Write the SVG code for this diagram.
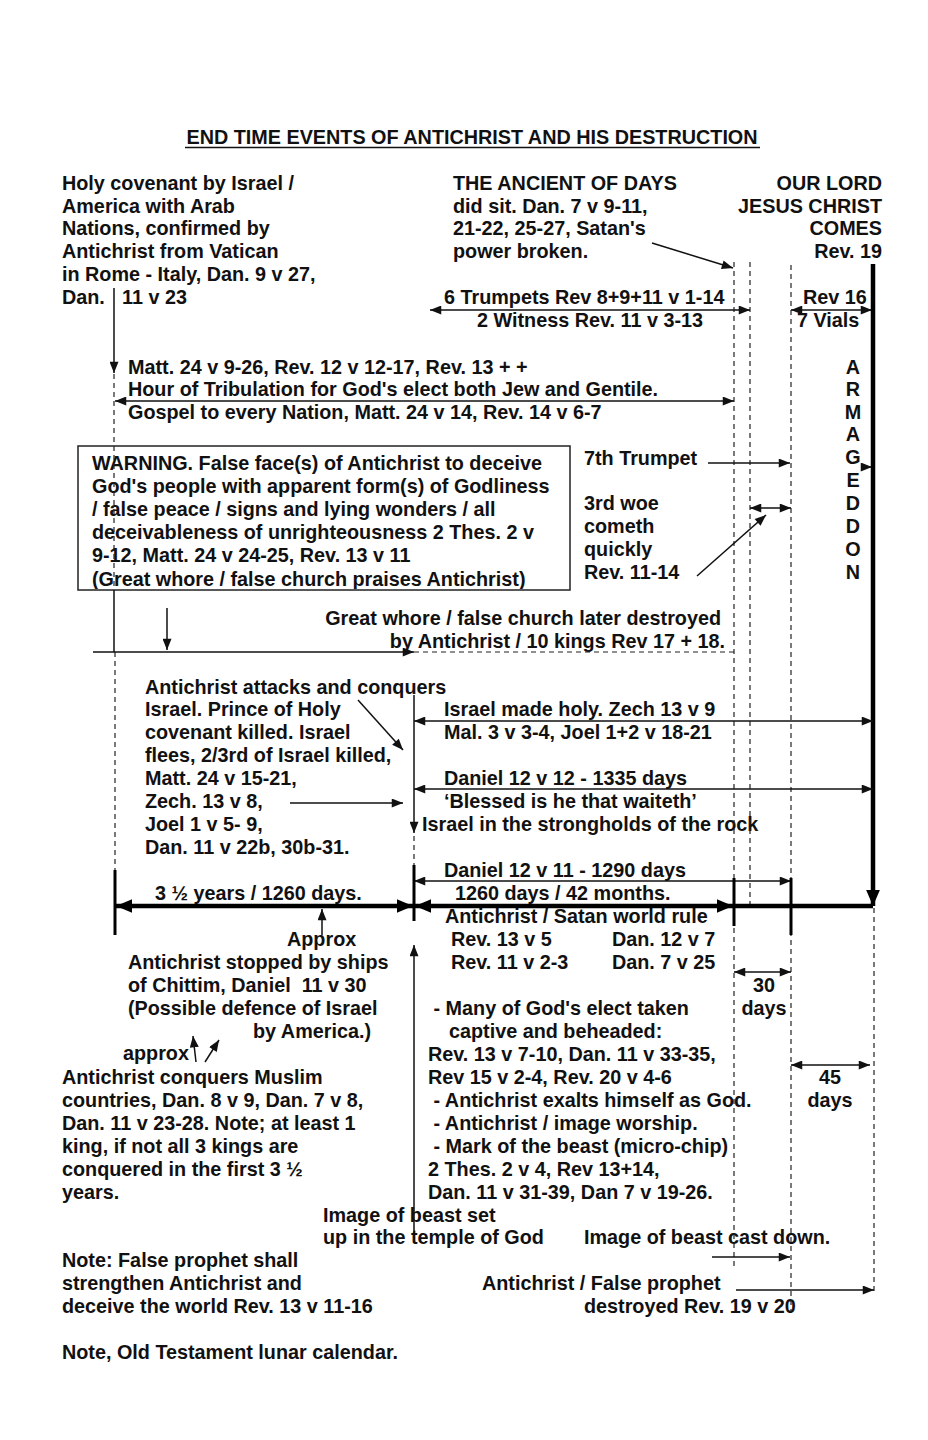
<svg xmlns="http://www.w3.org/2000/svg" width="928" height="1440" viewBox="0 0 928 1440">
<style>
.t{font-family:"Liberation Sans",Arial,sans-serif;font-weight:bold;font-size:19.8px;fill:#111;white-space:pre}
.e{text-anchor:end}
.m{text-anchor:middle}
.ln{stroke:#111;stroke-width:1.5;fill:none}
.dl{stroke:#222;stroke-width:1.2;stroke-dasharray:5 4;fill:none}
.th{stroke:#000;stroke-width:4.5;fill:none}
.tk{stroke:#000;stroke-width:3;fill:none}
</style>
<defs>
<marker id="a" viewBox="0 0 10 8" refX="10" refY="4" markerWidth="12" markerHeight="9" markerUnits="userSpaceOnUse" orient="auto-start-reverse"><path d="M0,0L10,4L0,8z" fill="#111"/></marker>
<marker id="b" viewBox="0 0 14 12" refX="14" refY="6" markerWidth="16" markerHeight="14" markerUnits="userSpaceOnUse" orient="auto-start-reverse"><path d="M0,0L14,6L0,12z" fill="#000"/></marker>
<clipPath id="boxclip"><rect x="78" y="446" width="492" height="143"/></clipPath>
</defs>
<rect width="928" height="1440" fill="#fff"/>

<g id="title">
<text class="t m" x="472" y="144">END TIME EVENTS OF ANTICHRIST AND HIS DESTRUCTION</text>
<line x1="185" y1="147.5" x2="760" y2="147.5" stroke="#111" stroke-width="1.5"/>
</g>

<g id="holy-covenant">
<text class="t" x="62" y="190">Holy covenant by Israel /</text>
<text class="t" x="62" y="213">America with Arab</text>
<text class="t" x="62" y="235">Nations, confirmed by</text>
<text class="t" x="62" y="258">Antichrist from Vatican</text>
<text class="t" x="62" y="281">in Rome - Italy, Dan. 9 v 27,</text>
<text class="t" x="62" y="304">Dan.</text>
<text class="t" x="122" y="304">11 v 23</text>
</g>

<g id="ancient-of-days">
<text class="t" x="453" y="190">THE ANCIENT OF DAYS</text>
<text class="t" x="453" y="213">did sit. Dan. 7 v 9-11,</text>
<text class="t" x="453" y="235">21-22, 25-27, Satan's</text>
<text class="t" x="453" y="258">power broken.</text>
</g>

<g id="lord-comes">
<text class="t e" x="882" y="190">OUR LORD</text>
<text class="t e" x="882" y="213">JESUS CHRIST</text>
<text class="t e" x="882" y="235">COMES</text>
<text class="t e" x="882" y="258">Rev. 19</text>
</g>

<g id="trumpets">
<text class="t" x="444" y="304">6 Trumpets Rev 8+9+11 v 1-14</text>
<text class="t" x="477" y="327">2 Witness Rev. 11 v 3-13</text>
</g>

<g id="vials">
<text class="t" x="803" y="304">Rev 16</text>
<text class="t" x="797" y="327">7 Vials</text>
</g>

<g id="tribulation">
<text class="t" x="128" y="374">Matt. 24 v 9-26, Rev. 12 v 12-17, Rev. 13 + +</text>
<text class="t" x="128" y="396">Hour of Tribulation for God's elect both Jew and Gentile.</text>
<text class="t" x="128" y="419">Gospel to every Nation, Matt. 24 v 14, Rev. 14 v 6-7</text>
</g>

<g id="armageddon">
<text class="t m" x="853" y="374">A</text>
<text class="t m" x="853" y="396">R</text>
<text class="t m" x="853" y="419">M</text>
<text class="t m" x="853" y="441">A</text>
<text class="t m" x="853" y="464">G</text>
<text class="t m" x="853" y="487">E</text>
<text class="t m" x="853" y="510">D</text>
<text class="t m" x="853" y="533">D</text>
<text class="t m" x="853" y="556">O</text>
<text class="t m" x="853" y="579">N</text>
</g>

<g id="warning">
<rect x="78" y="446" width="492" height="144" fill="none" stroke="#222" stroke-width="1.5"/>
<g clip-path="url(#boxclip)">
<text class="t" x="92" y="470">WARNING. False face(s) of Antichrist to deceive</text>
<text class="t" x="92" y="493">God's people with apparent form(s) of Godliness</text>
<text class="t" x="92" y="516">/ false peace / signs and lying wonders / all</text>
<text class="t" x="92" y="539">deceivableness of unrighteousness 2 Thes. 2 v</text>
<text class="t" x="92" y="562">9-12, Matt. 24 v 24-25, Rev. 13 v 11</text>
<text class="t" x="92" y="586">(Great whore / false church praises Antichrist)</text>
</g>
</g>

<g id="seventh-trumpet">
<text class="t" x="584" y="465">7th Trumpet</text>
</g>

<g id="third-woe">
<text class="t" x="584" y="510">3rd woe</text>
<text class="t" x="584" y="533">cometh</text>
<text class="t" x="584" y="556">quickly</text>
<text class="t" x="584" y="579">Rev. 11-14</text>
</g>

<g id="great-whore">
<text class="t e" x="721" y="625">Great whore / false church later destroyed</text>
<text class="t e" x="725" y="648">by Antichrist / 10 kings Rev 17 + 18.</text>
</g>

<g id="attacks-israel">
<text class="t" x="145" y="694">Antichrist attacks and conquers</text>
<text class="t" x="145" y="716">Israel. Prince of Holy</text>
<text class="t" x="145" y="739">covenant killed. Israel</text>
<text class="t" x="145" y="762">flees, 2/3rd of Israel killed,</text>
<text class="t" x="145" y="785">Matt. 24 v 15-21,</text>
<text class="t" x="145" y="808">Zech. 13 v 8,</text>
<text class="t" x="145" y="831">Joel 1 v 5- 9,</text>
<text class="t" x="145" y="854">Dan. 11 v 22b, 30b-31.</text>
</g>

<g id="israel-holy">
<text class="t" x="444" y="716">Israel made holy. Zech 13 v 9</text>
<text class="t" x="444" y="739">Mal. 3 v 3-4, Joel 1+2 v 18-21</text>
</g>

<g id="days-1335">
<text class="t" x="444" y="785">Daniel 12 v 12 - 1335 days</text>
<text class="t" x="444" y="808">‘Blessed is he that waiteth’</text>
<text class="t" x="422" y="831">Israel in the strongholds of the rock</text>
</g>

<g id="days-1290">
<text class="t" x="444" y="877">Daniel 12 v 11 - 1290 days</text>
</g>

<g id="first-half">
<text class="t" x="155" y="900">3 ½ years / 1260 days.</text>
</g>

<g id="second-half">
<text class="t" x="455" y="900">1260 days / 42 months.</text>
<text class="t" x="445" y="923">Antichrist / Satan world rule</text>
<text class="t" x="451" y="946">Rev. 13 v 5</text>
<text class="t" x="612" y="946">Dan. 12 v 7</text>
<text class="t" x="451" y="969">Rev. 11 v 2-3</text>
<text class="t" x="612" y="969">Dan. 7 v 25</text>
</g>

<g id="chittim">
<text class="t" x="287" y="946">Approx</text>
<text class="t" x="128" y="969">Antichrist stopped by ships</text>
<text class="t" x="128" y="992">of Chittim, Daniel  11 v 30</text>
<text class="t" x="128" y="1015">(Possible defence of Israel</text>
<text class="t" x="253" y="1038">by America.)</text>
</g>

<g id="muslim">
<text class="t" x="123" y="1060">approx</text>
<text class="t" x="62" y="1084">Antichrist conquers Muslim</text>
<text class="t" x="62" y="1107">countries, Dan. 8 v 9, Dan. 7 v 8,</text>
<text class="t" x="62" y="1130">Dan. 11 v 23-28. Note; at least 1</text>
<text class="t" x="62" y="1153">king, if not all 3 kings are</text>
<text class="t" x="62" y="1176">conquered in the first 3 ½</text>
<text class="t" x="62" y="1199">years.</text>
</g>

<g id="elect-beheaded">
<text class="t" x="428" y="1015"> - Many of God's elect taken</text>
<text class="t" x="449" y="1038">captive and beheaded:</text>
<text class="t" x="428" y="1061">Rev. 13 v 7-10, Dan. 11 v 33-35,</text>
<text class="t" x="428" y="1084">Rev 15 v 2-4, Rev. 20 v 4-6</text>
<text class="t" x="428" y="1107"> - Antichrist exalts himself as God.</text>
<text class="t" x="428" y="1130"> - Antichrist / image worship.</text>
<text class="t" x="428" y="1153"> - Mark of the beast (micro-chip)</text>
<text class="t" x="428" y="1176">2 Thes. 2 v 4, Rev 13+14,</text>
<text class="t" x="428" y="1199">Dan. 11 v 31-39, Dan 7 v 19-26.</text>
</g>

<g id="thirty-days">
<text class="t m" x="764" y="992">30</text>
<text class="t m" x="764" y="1015">days</text>
</g>

<g id="fortyfive-days">
<text class="t m" x="830" y="1084">45</text>
<text class="t m" x="830" y="1107">days</text>
</g>

<g id="image-set">
<text class="t" x="323" y="1222">Image of beast set</text>
<text class="t" x="323" y="1244">up in the temple of God</text>
</g>

<g id="image-cast">
<text class="t" x="584" y="1244">Image of beast cast down.</text>
</g>

<g id="false-prophet-note">
<text class="t" x="62" y="1267">Note: False prophet shall</text>
<text class="t" x="62" y="1290">strengthen Antichrist and</text>
<text class="t" x="62" y="1313">deceive the world Rev. 13 v 11-16</text>
</g>

<g id="destroyed">
<text class="t" x="482" y="1290">Antichrist / False prophet</text>
<text class="t" x="584" y="1313">destroyed Rev. 19 v 20</text>
</g>

<g id="lunar-note">
<text class="t" x="62" y="1359">Note, Old Testament lunar calendar.</text>
</g>

<g id="connectors">
<line class="dl" x1="734" y1="262" x2="734" y2="1270"/>
<line class="dl" x1="750" y1="262" x2="750" y2="905"/>
<line class="dl" x1="791" y1="265" x2="791" y2="1312"/>
<line class="dl" x1="874" y1="908" x2="874" y2="1295"/>
<line class="ln" x1="114" y1="288" x2="114" y2="373" marker-end="url(#a)"/>
<line class="dl" x1="114" y1="374" x2="114" y2="590"/>
<line class="ln" x1="114" y1="590" x2="114" y2="652"/>
<line class="dl" x1="115" y1="652" x2="115" y2="870"/>
<line class="ln" x1="652" y1="243" x2="733" y2="268" marker-end="url(#a)"/>
<line class="ln" x1="430" y1="310" x2="750" y2="310" marker-start="url(#a)" marker-end="url(#a)"/>
<line class="ln" x1="791" y1="310" x2="872" y2="310" marker-start="url(#a)" marker-end="url(#a)"/>
<line class="ln" x1="115" y1="401" x2="734" y2="401" marker-start="url(#a)" marker-end="url(#a)"/>
<line class="ln" x1="708" y1="463" x2="790" y2="463" marker-end="url(#a)"/>
<line class="ln" x1="750" y1="508" x2="791" y2="508" marker-start="url(#a)" marker-end="url(#a)"/>
<line class="ln" x1="697" y1="576" x2="766" y2="515" marker-end="url(#a)"/>
<line class="ln" x1="862" y1="467" x2="872" y2="467" marker-end="url(#a)"/>
<line class="th" x1="873" y1="264" x2="873" y2="906" marker-end="url(#b)"/>
<line class="ln" x1="167" y1="608" x2="167" y2="650" marker-end="url(#a)"/>
<line class="ln" x1="93" y1="652" x2="414" y2="652" marker-end="url(#a)"/>
<line class="dl" x1="414" y1="652" x2="734" y2="652"/>
<line class="ln" x1="358" y1="700" x2="403" y2="750" marker-end="url(#a)"/>
<line class="ln" x1="290" y1="803" x2="403" y2="803" marker-end="url(#a)"/>
<line class="ln" x1="414" y1="695" x2="414" y2="833" marker-end="url(#a)"/>
<line class="dl" x1="414" y1="836" x2="414" y2="866"/>
<line class="ln" x1="414" y1="721" x2="873" y2="721" marker-start="url(#a)" marker-end="url(#a)"/>
<line class="ln" x1="414" y1="789" x2="873" y2="789" marker-start="url(#a)" marker-end="url(#a)"/>
<line class="ln" x1="414" y1="881" x2="791" y2="881" marker-start="url(#a)" marker-end="url(#a)"/>
<line class="th" x1="116" y1="906" x2="413" y2="906" marker-start="url(#b)" marker-end="url(#b)"/>
<line class="th" x1="415" y1="906" x2="733" y2="906" marker-start="url(#b)" marker-end="url(#b)"/>
<line class="th" x1="734" y1="906" x2="873" y2="906"/>
<line class="tk" x1="115" y1="870" x2="115" y2="935"/>
<line class="tk" x1="414" y1="865" x2="414" y2="921"/>
<line class="tk" x1="734" y1="878" x2="734" y2="926"/>
<line class="tk" x1="791" y1="878" x2="791" y2="935"/>
<line class="ln" x1="322" y1="935" x2="322" y2="909" marker-end="url(#a)"/>
<line class="ln" x1="414" y1="1240" x2="414" y2="945" marker-end="url(#a)"/>
<line class="ln" x1="196" y1="1062" x2="193" y2="1036" marker-end="url(#a)"/>
<line class="ln" x1="205" y1="1062" x2="219" y2="1040" marker-end="url(#a)"/>
<line class="ln" x1="734" y1="972" x2="791" y2="972" marker-start="url(#a)" marker-end="url(#a)"/>
<line class="ln" x1="791" y1="1065" x2="870" y2="1065" marker-start="url(#a)" marker-end="url(#a)"/>
<line class="ln" x1="712" y1="1257" x2="790" y2="1257" marker-end="url(#a)"/>
<line class="ln" x1="736" y1="1290" x2="874" y2="1290" marker-end="url(#a)"/>
</g>
</svg>
